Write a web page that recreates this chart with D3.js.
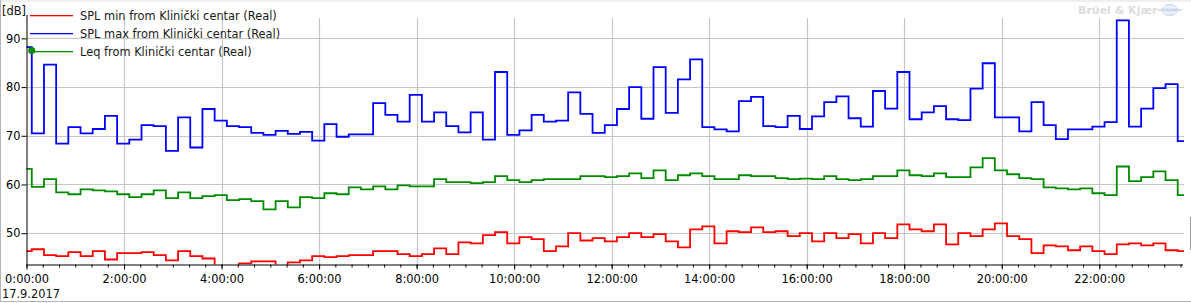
<!DOCTYPE html>
<html>
<head>
<meta charset="utf-8">
<script src="https://cdnjs.cloudflare.com/ajax/libs/d3/7.8.5/d3.min.js"></script>
<style>
	body { margin: 0; background: #fff; }
	svg text { font-family: "DejaVu Sans", sans-serif; }
</style>
</head>
<body>
<div id="chart"></div>
<script>

// 15-minute values, first interval starts 16.9.2017 23:51:30
var splMin = [46.3, 46.7, 45.5, 45.3, 46.1, 45.3, 46.3, 44.6, 45.9, 45.9, 46.1, 45.5, 44.4, 46.3, 45.3, 44.8,
	43.0, 43.0, 43.8, 44.2, 44.2, 43.0, 44.0, 44.4, 45.3, 45.1, 45.3, 45.5, 45.5, 46.3, 46.3, 45.7,
	45.3, 45.7, 46.9, 45.7, 48.1, 47.9, 49.6, 50.2, 47.9, 49.2, 48.8, 46.3, 47.3, 50.0, 48.5, 49.0,
	48.3, 49.2, 50.0, 49.2, 49.8, 48.3, 47.1, 50.8, 51.4, 47.9, 50.4, 50.2, 51.2, 50.2, 50.4, 49.4,
	50.0, 48.3, 50.0, 49.0, 49.8, 47.9, 50.0, 49.0, 51.8, 50.8, 50.4, 51.8, 47.7, 50.0, 49.4, 50.8,
	52.0, 49.4, 48.8, 45.9, 47.5, 47.3, 46.5, 47.3, 46.3, 45.7, 47.7, 47.9, 47.5, 47.9, 46.5, 46.3];

var splMax = [88.2, 70.5, 84.6, 68.4, 71.8, 70.5, 71.4, 74.1, 68.4, 69.2, 72.2, 72.0, 66.9, 73.8, 67.6, 75.5,
	73.1, 72.0, 71.8, 70.6, 70.2, 71.0, 70.4, 70.8, 69.0, 72.4, 69.8, 70.3, 70.3, 76.7, 74.3, 72.9,
	78.4, 72.9, 74.8, 72.0, 70.7, 74.8, 69.2, 83.1, 70.2, 71.1, 74.3, 72.9, 73.1, 78.9, 74.5, 70.6,
	72.2, 75.5, 80.0, 73.5, 84.1, 74.7, 81.6, 85.7, 71.8, 71.3, 70.9, 77.1, 78.0, 72.0, 71.8, 74.1,
	71.4, 74.0, 76.9, 78.1, 73.6, 71.9, 79.2, 75.6, 83.1, 73.4, 74.8, 76.1, 73.4, 73.2, 79.7, 84.9,
	73.8, 73.8, 70.9, 76.9, 72.2, 69.3, 71.3, 71.3, 71.9, 72.8, 93.7, 71.9, 75.6, 79.8, 80.6, 68.9];

var leq = [63.2, 59.5, 61.1, 58.4, 58.0, 59.0, 58.8, 58.6, 58.0, 57.4, 58.0, 58.8, 57.2, 58.4, 57.2, 57.6,
	57.8, 56.8, 57.0, 56.6, 54.9, 56.6, 55.3, 57.4, 57.2, 58.2, 58.0, 59.4, 59.0, 59.6, 59.0, 59.8,
	59.6, 59.6, 61.1, 60.5, 60.5, 60.3, 60.5, 61.7, 60.9, 60.5, 60.9, 61.1, 61.1, 61.1, 61.7, 61.7,
	61.5, 61.7, 62.3, 61.3, 62.9, 60.9, 61.9, 62.3, 61.7, 61.1, 61.1, 61.9, 61.7, 61.7, 61.3, 61.1,
	61.2, 61.1, 61.7, 61.1, 60.9, 61.1, 61.7, 61.7, 62.9, 61.9, 61.7, 62.3, 61.5, 61.5, 63.5, 65.4,
	62.9, 62.1, 61.3, 61.1, 59.4, 59.2, 59.0, 59.2, 58.2, 57.8, 63.7, 60.7, 61.5, 62.7, 60.9, 57.8];

var seriesNames = ["SPL min from Klinički centar (Real)", "SPL max from Klinički centar (Real)", "Leq from Klinički centar (Real)"];
var seriesColors = ["#ff0000", "#0000ff", "#008c00"];
var yTicks = [50, 60, 70, 80, 90];
var firstStart = new Date(2017, 8, 16, 23, 51, 30);
var stepMinutes = 15;
var viewStart = new Date(2017, 8, 17, 0, 0, 0);
var viewEnd = new Date(2017, 8, 17, 23, 44, 15);
var dateLabel = "17.9.2017";

var W = 1191, H = 303;
var plotL = 26.5, plotR = 1184, plotT = 18, plotB = 264.5;

var svg = d3.select("#chart").append("svg")
	.attr("width", W).attr("height", H);

// frame
svg.append("rect").attr("x", 0).attr("y", 0).attr("width", W).attr("height", 2).attr("fill", "#efefef");
svg.append("rect").attr("x", 0).attr("y", 0).attr("width", 1).attr("height", 302).attr("fill", "#b4b4b4");
svg.append("rect").attr("x", 0).attr("y", 301).attr("width", W).attr("height", 1).attr("fill", "#b4b4b4");
svg.append("rect").attr("x", 1190).attr("y", 217).attr("width", 1).attr("height", 33).attr("fill", "#9a9a9a");

var x = d3.scaleTime().domain([viewStart, viewEnd]).range([plotL, plotR]);
var y = d3.scaleLinear().domain([43.57, 94.19]).range([plotB, plotT]);

// grid
svg.append("g").selectAll("line")
	.data(yTicks).enter().append("line")
	.attr("x1", plotL).attr("x2", plotR)
	.attr("y1", function (d) { return Math.round(y(d)) + 0.5; })
	.attr("y2", function (d) { return Math.round(y(d)) + 0.5; })
	.attr("stroke", "#c6c6c6").attr("stroke-width", 1.2);

svg.append("g").selectAll("line")
	.data(d3.timeHour.every(2).range(d3.timeHour.offset(viewStart, 2), viewEnd)).enter().append("line")
	.attr("x1", function (d) { return Math.round(x(d)) + 0.5; })
	.attr("x2", function (d) { return Math.round(x(d)) + 0.5; })
	.attr("y1", plotT).attr("y2", plotB)
	.attr("stroke", "#c6c6c6").attr("stroke-width", 1.2);

// clip
svg.append("clipPath").attr("id", "plot")
	.append("rect").attr("x", plotL).attr("y", plotT).attr("width", plotR - plotL).attr("height", plotB - plotT);

function toPoints(values) {
	var pts = values.map(function (v, i) {
		return { t: d3.timeMinute.offset(firstStart, i * stepMinutes), v: v };
	});
	pts.push({ t: d3.timeMinute.offset(firstStart, values.length * stepMinutes), v: values[values.length - 1] });
	return pts;
}

var line = d3.line()
	.x(function (d) { return x(d.t); })
	.y(function (d) { return y(d.v); })
	.curve(d3.curveStepAfter);

var plot = svg.append("g").attr("clip-path", "url(#plot)");
[splMin, splMax, leq].forEach(function (s, k) {
	plot.append("path")
		.attr("d", line(toPoints(s)))
		.attr("fill", "none")
		.attr("stroke", seriesColors[k])
		.attr("stroke-width", 1.8);
});

// axes
var xMinor = svg.append("g").attr("transform", "translate(0," + plotB + ")")
	.call(d3.axisBottom(x).ticks(d3.timeMinute.every(20)).tickSize(3).tickFormat("").tickSizeOuter(0));
xMinor.select(".domain").remove();

var xAxis = svg.append("g").attr("transform", "translate(0," + plotB + ")")
	.call(d3.axisBottom(x).ticks(d3.timeHour.every(2)).tickSize(5).tickSizeOuter(0)
		.tickFormat(d3.timeFormat("%-H:%M:%S")));
xAxis.selectAll("text").attr("font-size", "11.4px").attr("fill", "#000").attr("dy", 0).attr("y", 18);
xAxis.select(".domain").attr("d", "M" + plotL + ",0.5H" + (plotR - 1));

var yAxis = svg.append("g").attr("transform", "translate(" + plotL + ",0)")
	.call(d3.axisLeft(y).tickValues(yTicks).tickSize(5).tickSizeOuter(0));
yAxis.selectAll("text").attr("font-size", "11.4px").attr("fill", "#000").attr("x", -6);
yAxis.select(".domain").attr("d", "M0.5,15V" + plotB);

svg.selectAll(".tick line").attr("stroke", "#000");
svg.selectAll(".domain").attr("stroke", "#000");

svg.append("text").attr("x", 2).attr("y", 15).attr("font-size", "11.4px").attr("fill", "#111").text("[dB]");
svg.append("text").attr("x", 2).attr("y", 298).attr("font-size", "11.4px").attr("fill", "#111").text(dateLabel);

// legend
var legend = svg.append("g");
seriesNames.forEach(function (name, k) {
	var ly = 15 + k * 18;
	legend.append("rect").attr("x", 30).attr("y", ly).attr("width", 43).attr("height", 1.3)
		.attr("fill", seriesColors[k]);
	legend.append("text").attr("x", 80).attr("y", ly + 4.5).attr("font-size", "11.4px").attr("fill", "#1a1a1a").text(name);
});
legend.append("circle").attr("cx", 31.7).attr("cy", 50.5).attr("r", 3.5).attr("fill", seriesColors[2]);

// watermark
var wm = svg.append("g");
wm.append("text").attr("x", 1078).attr("y", 14).attr("font-size", "11px").attr("font-weight", "bold")
	.attr("fill", "#dcdcdc").text("Brüel & Kjær");
wm.append("ellipse").attr("cx", 1170).attr("cy", 10).attr("rx", 8).attr("ry", 5.5)
	.attr("fill", "#dfe7f5").attr("stroke", "#c9d6ee").attr("stroke-width", 1);
wm.append("line").attr("x1", 1158).attr("x2", 1182).attr("y1", 10).attr("y2", 10).attr("stroke", "#c9d6ee").attr("stroke-width", 1.5);
wm.append("line").attr("x1", 1162).attr("x2", 1178).attr("y1", 7).attr("y2", 7).attr("stroke", "#ffffff").attr("stroke-width", 0.8);
wm.append("line").attr("x1", 1162).attr("x2", 1178).attr("y1", 13).attr("y2", 13).attr("stroke", "#ffffff").attr("stroke-width", 0.8);

</script>
</body>
</html>
